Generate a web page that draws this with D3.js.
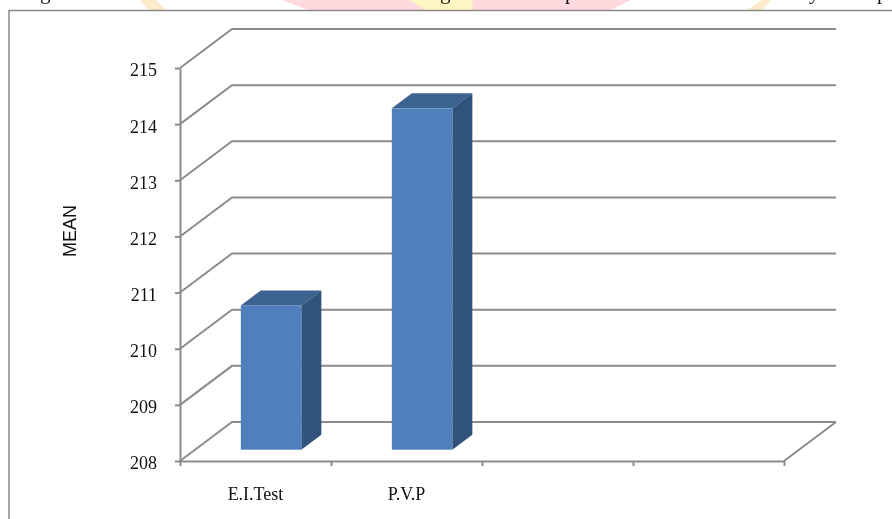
<!DOCTYPE html>
<html lang="en">
	<head>
		<meta charset="utf-8">
		<title>D3: Mean bar chart</title>
		<script type="text/javascript" src="https://d3js.org/d3.v7.min.js"></script>
		<style type="text/css">

		html, body {
			margin: 0;
			padding: 0;
			background: #fff;
			overflow: hidden;
		}

		svg {
			display: block;
			filter: blur(0.45px);
		}

		.num, .cat {
			font-family: "Liberation Serif", serif;
			font-size: 18px;
			fill: #111;
		}

		.ytitle {
			font-family: "Liberation Sans", sans-serif;
			font-size: 18px;
			fill: #111;
		}

		.axis path, .axis line, .grid {
			fill: none;
			stroke: #8c8c8c;
			stroke-width: 2;
		}

		</style>
	</head>
	<body>


		<script type="text/javascript">

		//The data
		var categories = ["E.I.Test", "P.V.P", "", ""];
		var barCategories = ["E.I.Test", "P.V.P"];
		var means = [210.57, 214.08];
		var yTicks = [208, 209, 210, 211, 212, 213, 214, 215];
		var yTitle = "MEAN";

		//Width and height
		var w = 892;
		var h = 519;

		//Plot position
		var left = 180;
		var right = 784;
		var bottom = 461;
		var top_ = 68;

		//3d depth of the walls
		var depthX = 52;
		var depthY = 39;

		//Where the bar stands on the floor, as fraction of the depth
		var barStart = 0.29;
		var barDepth = 0.385;

		var svg = d3.select("body")
						.append("svg")
						.attr("width", w)
						.attr("height", h);

		//Page background left over from the scan: watermark bands and cut off caption
		var bands = [
			{ fill: "#fdebcb", pts: [[140, 0], [156, 0], [166, 10], [149, 10]] },
			{ fill: "#ffd9de", pts: [[282, 0], [631, 0], [611, 10], [308, 10]] },
			{ fill: "#fff8c4", pts: [[410, 0], [472, 0], [473, 10], [425, 10]] },
			{ fill: "#fdebcb", pts: [[762, 0], [771, 0], [762, 10], [747, 10]] }
		];

		svg.selectAll("polygon.band")
			.data(bands)
			.enter()
			.append("polygon")
			.attr("class", "band")
			.attr("points", function(d) { return d.pts.join(" "); })
			.style("fill", function(d) { return d.fill; });

		var captionTails = [
			{ t: "g", x: 40 },
			{ t: "g", x: 440 },
			{ t: "p", x: 565 },
			{ t: "y", x: 809 },
			{ t: "p", x: 877 }
		];

		svg.selectAll("text.tail")
			.data(captionTails)
			.enter()
			.append("text")
			.attr("class", "tail")
			.attr("x", function(d) { return d.x; })
			.attr("y", -1)
			.style("font-family", "'Liberation Serif', serif")
			.style("font-size", "21px")
			.style("fill", "#111")
			.text(function(d) { return d.t; });

		//Outer frame, only top and left are on the page
		svg.append("path")
			.attr("d", "M892,10.5H9V519")
			.style("fill", "none")
			.style("stroke", "#8a8a8a")
			.style("stroke-width", 1.5);

		//Scales
		var yScale = d3.scaleLinear()
						.domain([208, 215])
						.range([bottom, top_]);

		var xScale = d3.scaleBand()
						.domain(d3.range(categories.length))
						.range([left, right]);

		var xEdges = d3.scaleLinear()
						.domain([0, categories.length])
						.range([left, right]);

		//Gridlines run along the side wall and then the back wall
		svg.selectAll("path.grid")
			.data(yTicks)
			.enter()
			.append("path")
			.attr("class", "grid")
			.attr("d", function(d) {
				var y = yScale(d);
				return d3.line()([[left, y], [left + depthX, y - depthY], [right + depthX, y - depthY]]);
			});

		//Right edge of the floor
		svg.append("path")
			.attr("class", "grid")
			.attr("d", d3.line()([[right, bottom], [right + depthX, bottom - depthY]]));

		//Bars
		var bw = 60.5;
		var bx = function(d, i) {
			return xScale(i) + (xScale.bandwidth() - bw) / 2 + barStart * depthX + 0.5;
		};
		var lift = barStart * depthY;
		var ddx = barDepth * depthX;
		var ddy = barDepth * depthY;

		var bars = svg.selectAll("g.bar")
			.data(means)
			.enter()
			.append("g")
			.attr("class", "bar");

		//Top face
		bars.append("path")
			.style("fill", "#3c628f")
			.attr("d", function(d, i) {
				var x = bx(d, i), y = yScale(d) - lift;
				return d3.line()([[x, y], [x + ddx, y - ddy], [x + bw + ddx, y - ddy], [x + bw, y]]) + "Z";
			});

		//Side face
		bars.append("path")
			.style("fill", "#30527b")
			.attr("d", function(d, i) {
				var x = bx(d, i) + bw, y = yScale(d) - lift, b = bottom - lift;
				return d3.line()([[x, y], [x + ddx, y - ddy], [x + ddx, b - ddy], [x, b]]) + "Z";
			});

		//Front face
		bars.append("rect")
			.style("fill", "#4f80bd")
			.attr("x", bx)
			.attr("y", function(d) { return yScale(d) - lift; })
			.attr("width", bw)
			.attr("height", function(d) { return bottom - yScale(d); });

		//Y axis
		var yAxis = d3.axisLeft(yScale)
						.tickValues(yTicks)
						.tickSize(5)
						.tickSizeOuter(0)
						.tickPadding(18)
						.tickFormat(d3.format("d"));

		var gy = svg.append("g")
			.attr("class", "axis")
			.attr("transform", "translate(" + left + ",0)")
			.call(yAxis);

		gy.selectAll("text")
			.attr("class", "num")
			.attr("dy", "0.44em");
		gy.attr("font-family", null).attr("font-size", null);

		//X axis, the ticks sit between the categories
		var xAxis = d3.axisBottom(xEdges)
						.tickValues(d3.range(categories.length + 1))
						.tickSize(5)
						.tickSizeOuter(0)
						.tickFormat("");

		svg.append("g")
			.attr("class", "axis")
			.attr("transform", "translate(0," + bottom + ")")
			.call(xAxis);

		//Category labels
		svg.selectAll("text.cat")
			.data(barCategories)
			.enter()
			.append("text")
			.attr("class", "cat")
			.attr("text-anchor", "middle")
			.attr("x", function(d, i) { return xScale(i) + xScale.bandwidth() / 2; })
			.attr("y", 500)
			.text(function(d) { return d; });

		//Y title
		svg.append("text")
			.attr("class", "ytitle")
			.attr("text-anchor", "middle")
			.attr("transform", "translate(76,231) rotate(-90)")
			.text(yTitle);

		</script>
	</body>
</html>
